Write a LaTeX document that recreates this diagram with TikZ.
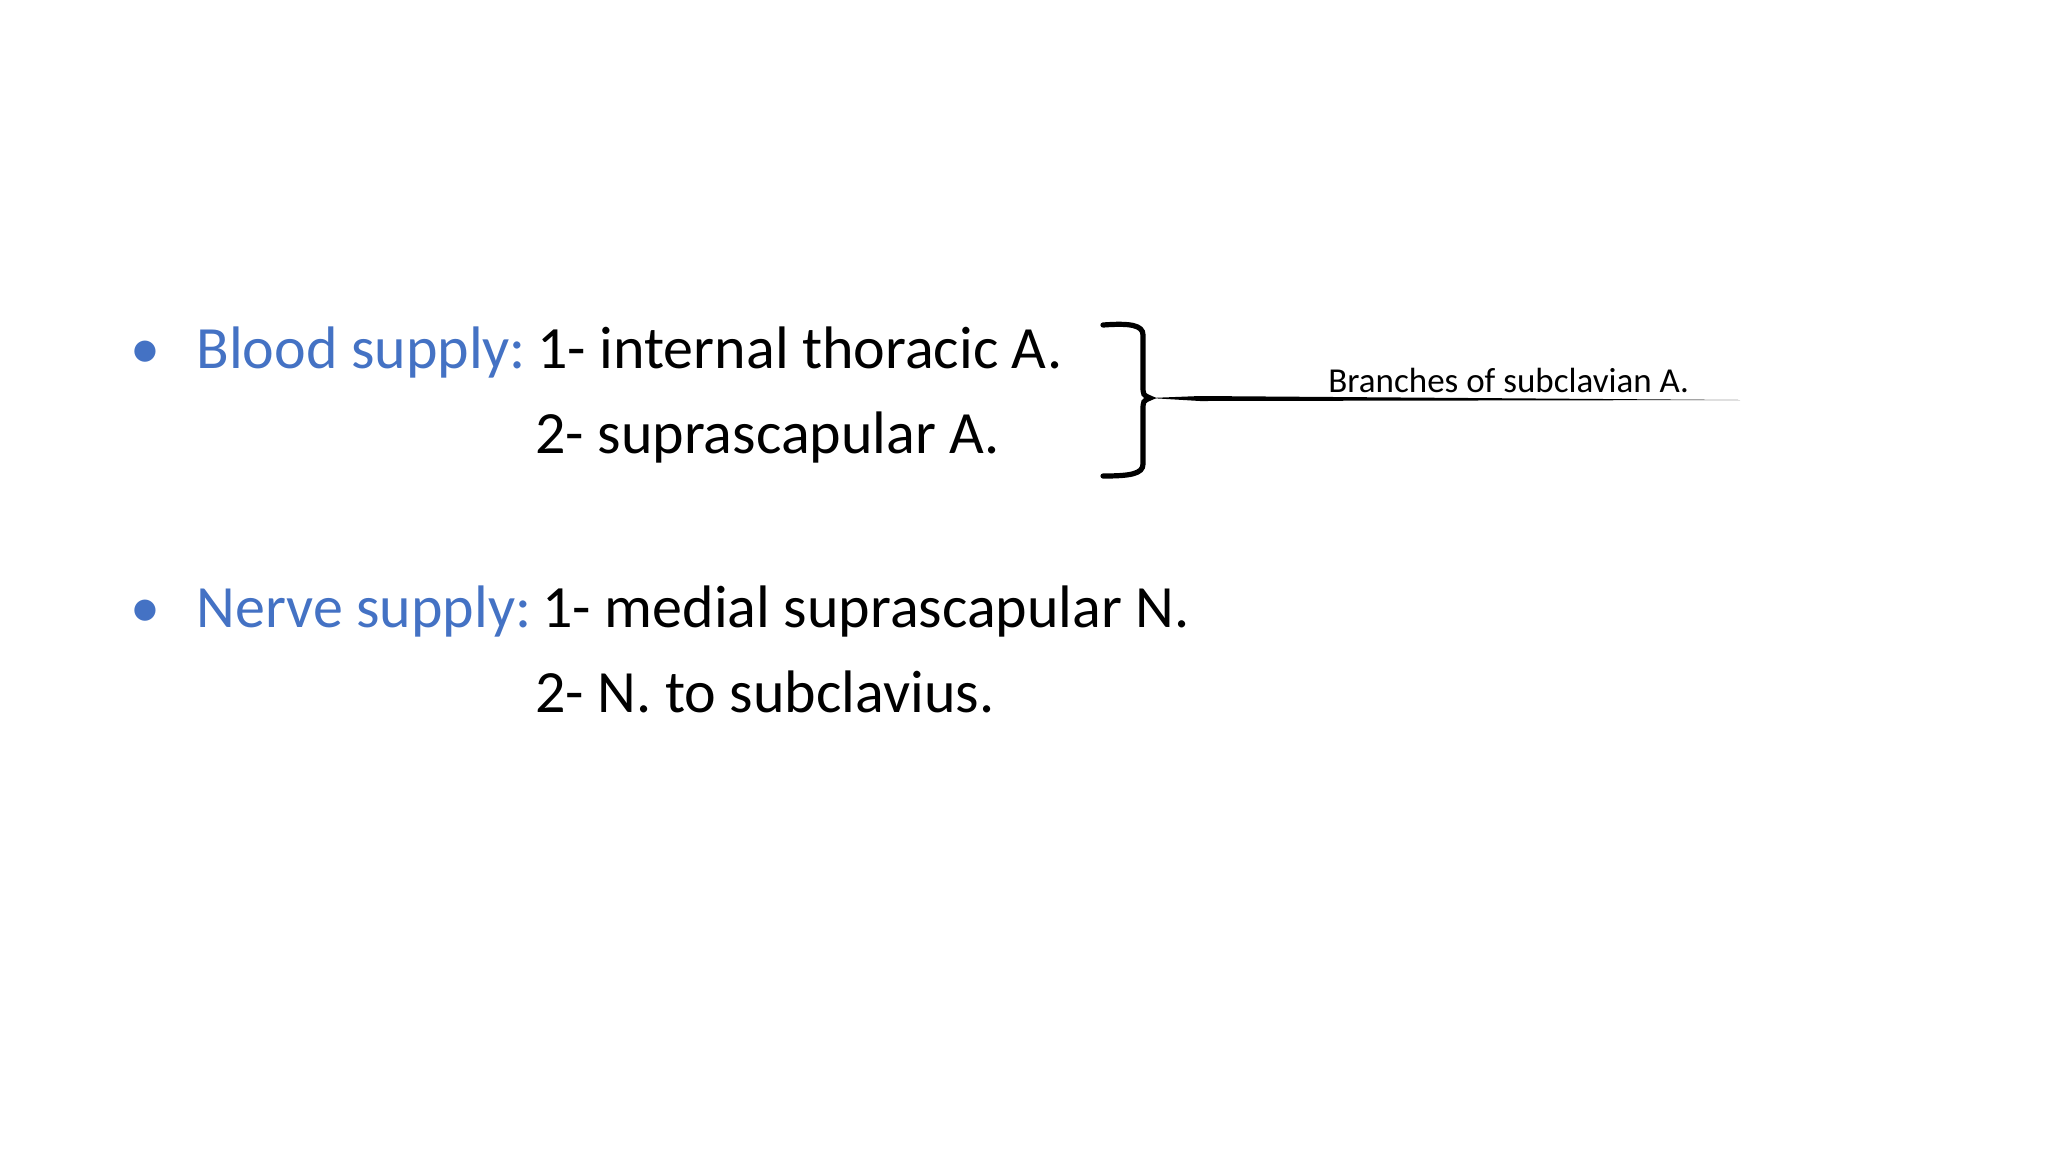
\documentclass[tikz,border=0pt]{standalone}
\usepackage{fontspec}
\setmainfont{Carlito}
\definecolor{hdblue}{HTML}{4472C4}
\begin{document}
\begin{tikzpicture}[x=0.5pt,y=-0.5pt,
  big/.style={anchor=base west,inner sep=0pt,font=\fontsize{30}{36}\selectfont},
  small/.style={anchor=base west,inner sep=0pt,font=\fontsize{17.5}{21}\selectfont}]
\useasboundingbox (0,0) rectangle (2048,1153);
\node[big,hdblue] (b1) at (130,368) {•};
\node[big,hdblue] (bs) at (196,368) {Blood supply:};
\node[big] (i1) at (537,368) {1- internal thoracic A.};
\node[big] (i2) at (535,453) {2- suprascapular A.};
\node[big,hdblue] (b2) at (130,627) {•};
\node[big,hdblue] (ns) at (196,627) {Nerve supply:};
\node[big] (n1) at (542,627) {1- medial suprascapular N.};
\node[big] (n2) at (535,712) {2- N. to subclavius.};
\node[small] (br) at (1328,392) {Branches of subclavian A.};
\coordinate (tip) at (1150,398);
\coordinate (lend) at (1740,400);
\draw[line width=2.6pt,line cap=round] (1103,325) .. controls (1130,323) and (1143,325) .. (1143,335) -- (1143,385) .. controls (1143,395) .. (tip)
  .. controls (1143,401) .. (1143,411) -- (1143,464) .. controls (1143,474) and (1130,476) .. (1103,476);
\fill (tip) -- (1200,396) -- (lend) -- (1200,401) -- cycle;
\end{tikzpicture}
\end{document}
